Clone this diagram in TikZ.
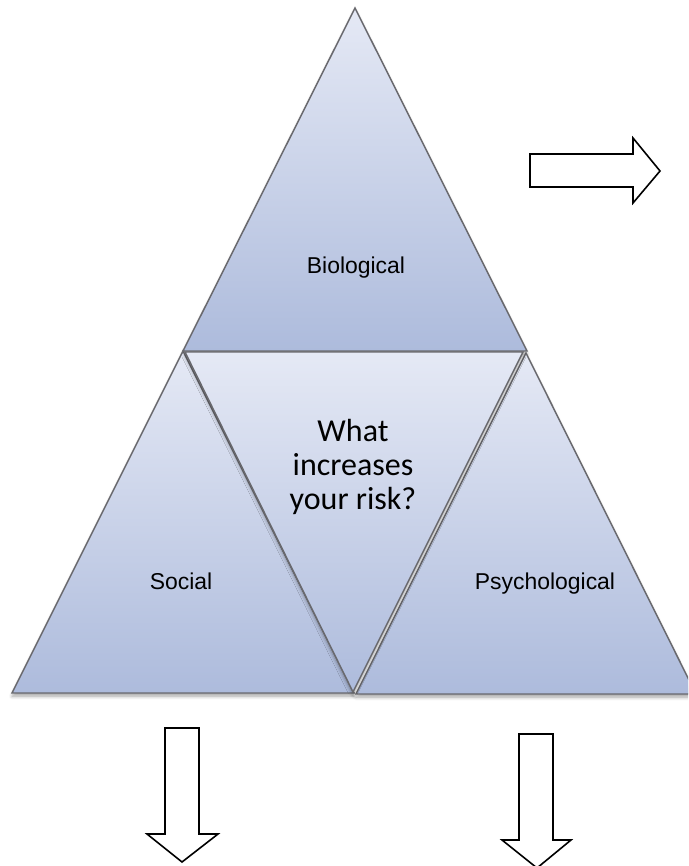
\documentclass[tikz,border=0pt]{standalone}
\usepackage{fontspec}
\setmainfont{Liberation Sans}
\newfontfamily\calfont{Carlito}
\usetikzlibrary{shadows.blur}
\definecolor{lightb}{RGB}{229,233,245}
\definecolor{darkb}{RGB}{173,187,220}
\definecolor{edgegray}{RGB}{105,105,110}
\tikzset{
  tri/.style={top color=lightb, bottom color=darkb, draw=edgegray, line width=1.1pt, line join=miter,
    blur shadow={shadow xshift=0pt, shadow yshift=-2.5pt, shadow blur steps=5, shadow opacity=35, shadow blur radius=2.5pt}},
  bigarrow/.style={draw=black, fill=white, line width=1.2pt, line join=miter},
  lbl/.style={font=\fontsize{17.2}{20}\selectfont, text=black, anchor=base},
  qlbl/.style={font=\calfont\fontsize{24}{25.5}\selectfont, align=center, text=black}
}
\begin{document}
\begin{tikzpicture}[x=0.75pt,y=-0.75pt]
\useasboundingbox (0,0) rectangle (688,866);
\begin{scope}
\clip (0,0) rectangle (688,866);
% top triangle
\coordinate (tA) at (355,8);
\coordinate (tL) at (183,351);
\coordinate (tR) at (527,351);
\shade[tri] (tA) -- (tR) -- (tL) -- cycle;
% left triangle
\coordinate (lA) at (183,351);
\coordinate (lL) at (12,693);
\coordinate (lR) at (354,693);
\shade[tri] (lA) -- (lR) -- (lL) -- cycle;
% right triangle
\coordinate (rA) at (526,353);
\coordinate (rL) at (356,694);
\coordinate (rR) at (696,694);
\shade[tri] (rA) -- (rR) -- (rL) -- cycle;
% inverted middle triangle
\coordinate (mL) at (185,352);
\coordinate (mR) at (523,352);
\coordinate (mB) at (353,692);
\shade[tri] (mL) -- (mR) -- (mB) -- cycle;
\end{scope}
% labels
\node[lbl] (bio) at (356,273) {Biological};
\node[lbl] (soc) at (181,589) {Social};
\node[lbl] (psy) at (545,589) {Psychological};
\node[qlbl] (q) at (353,467) {What\\increases\\your risk?};
% arrows
\draw[bigarrow] (530,154) -- (633,154) -- (633,138) -- (660,171) -- (633,203) -- (633,187) -- (530,187) -- cycle;
\draw[bigarrow] (165,728) -- (199,728) -- (199,834) -- (218,834) -- (182,862) -- (147,834) -- (165,834) -- cycle;
\draw[bigarrow] (519,734) -- (553,734) -- (553,840) -- (571,840) -- (537,868) -- (502,840) -- (519,840) -- cycle;
\end{tikzpicture}
\end{document}
